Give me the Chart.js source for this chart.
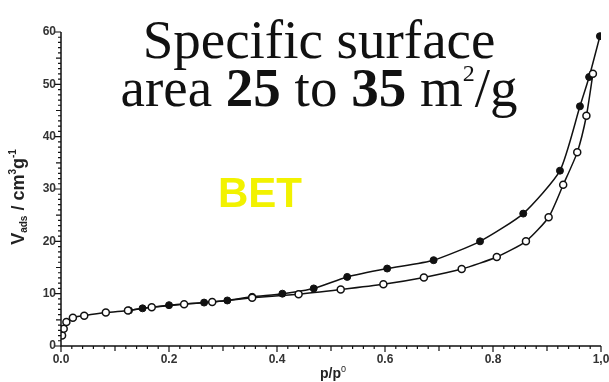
<!DOCTYPE html>
<html>
<head>
<meta charset="utf-8">
<script src="https://cdn.jsdelivr.net/npm/chart.js@4/dist/chart.umd.min.js"></script>
<style>
  html, body { margin: 0; padding: 0; background: #fff; }
  #wrap { width: 609px; height: 382px; }
</style>
</head>
<body>
<div id="wrap"><canvas id="c" width="609" height="382"></canvas></div>
<script>
// Nitrogen isotherm: relative pressure p/p0 and adsorbed volume (cm3/g)
const adsP = [0.002, 0.005, 0.010, 0.022, 0.043, 0.083, 0.124, 0.168, 0.228, 0.280, 0.354, 0.440, 0.518, 0.597, 0.672, 0.742, 0.807, 0.861, 0.903, 0.930, 0.956, 0.973, 0.985];
const adsV = [2.0, 3.3, 4.6, 5.4, 5.8, 6.4, 6.8, 7.4, 8.0, 8.4, 9.2, 9.9, 10.8, 11.8, 13.1, 14.7, 17.0, 20.0, 24.6, 30.8, 37.0, 44.0, 52.0];

const desP = [0.126, 0.151, 0.200, 0.265, 0.308, 0.354, 0.410, 0.468, 0.530, 0.604, 0.690, 0.776, 0.856, 0.924, 0.961, 0.978, 0.998];
const desV = [6.8, 7.2, 7.8, 8.3, 8.7, 9.4, 10.0, 11.0, 13.2, 14.8, 16.4, 20.0, 25.3, 33.5, 45.8, 51.4, 59.2];

const xTickLabels = ['0.0', '0.2', '0.4', '0.6', '0.8', '1,0'];
const yTickLabels = ['0', '10', '20', '30', '40', '50', '60'];

const toPoints = (px, py) => px.map((p, i) => ({ x: p, y: py[i] }));

const LABEL_FONT = "'Liberation Sans', Arial, sans-serif";
const SERIF = "'Liberation Serif', 'Times New Roman', serif";

// Draws a run of text pieces (with sub/superscripts) starting at x
function drawRun(ctx, parts, family, x, y) {
  parts.forEach(p => {
    ctx.font = p.f + ' ' + family;
    ctx.fillText(p.t, x, y + p.dy);
    x += ctx.measureText(p.t).width;
  });
}
function runWidth(ctx, parts, family) {
  let w = 0;
  parts.forEach(p => { ctx.font = p.f + ' ' + family; w += ctx.measureText(p.t).width; });
  return w;
}

// Axis lines, minor/major tick marks and the annotation texts
const decorations = {
  id: 'decorations',
  afterDraw(chart) {
    const { ctx, chartArea: a, scales: { x, y } } = chart;
    ctx.save();
    ctx.strokeStyle = '#111';
    ctx.lineWidth = 1.5;
    ctx.beginPath();
    ctx.moveTo(a.left, a.top);
    ctx.lineTo(a.left, a.bottom);
    ctx.lineTo(a.right, a.bottom);
    ctx.stroke();

    ctx.lineWidth = 1.2;
    ctx.beginPath();
    for (let i = 0; i <= 50; i++) {
      const px = x.getPixelForValue(i / 50);
      const len = i % 10 === 0 ? 6 : (i % 5 === 0 ? 5 : 3);
      ctx.moveTo(px, a.bottom);
      ctx.lineTo(px, a.bottom + len);
    }
    for (let i = 0; i <= 60; i++) {
      const py = y.getPixelForValue(i);
      const len = i % 10 === 0 ? 6 : (i % 5 === 0 ? 5 : 3);
      ctx.moveTo(a.left, py);
      ctx.lineTo(a.left - len, py);
    }
    ctx.stroke();

    // y-axis title: V_ads / cm^3 g^-1
    ctx.fillStyle = '#222';
    ctx.translate(19, 197);
    ctx.rotate(-Math.PI / 2);
    ctx.textBaseline = 'middle';
    const yt = [
      { t: 'V', f: 'bold 18px', dy: 0 },
      { t: 'ads', f: 'bold 10px', dy: 5 },
      { t: ' / cm', f: 'bold 18px', dy: 0 },
      { t: '3', f: 'bold 10px', dy: -6 },
      { t: 'g', f: 'bold 18px', dy: 0 },
      { t: '-1', f: 'bold 10px', dy: -6 }
    ];
    drawRun(ctx, yt, LABEL_FONT, -runWidth(ctx, yt, LABEL_FONT) / 2, 0);
    ctx.restore();

    // x-axis title: p/p^0
    ctx.save();
    ctx.fillStyle = '#222';
    ctx.textBaseline = 'alphabetic';
    const xt = [
      { t: 'p/p', f: 'bold 14px', dy: 0 },
      { t: '0', f: 'normal 9px', dy: -6 }
    ];
    drawRun(ctx, xt, LABEL_FONT, 333 - runWidth(ctx, xt, LABEL_FONT) / 2, 378);
    ctx.restore();

    // headline text
    ctx.save();
    ctx.fillStyle = '#111';
    ctx.textBaseline = 'alphabetic';
    ctx.font = '55px ' + SERIF;
    ctx.textAlign = 'center';
    ctx.fillText('Specific surface', 319, 58);
    ctx.textAlign = 'left';
    const line2 = [
      { t: 'area ', f: 'normal 55px', dy: 0 },
      { t: '25', f: 'bold 55px', dy: 0 },
      { t: ' to ', f: 'normal 55px', dy: 0 },
      { t: '35', f: 'bold 55px', dy: 0 },
      { t: ' m', f: 'normal 55px', dy: 0 },
      { t: '2', f: 'normal 24px', dy: -25 },
      { t: '/g', f: 'normal 55px', dy: 0 }
    ];
    drawRun(ctx, line2, SERIF, 319 - runWidth(ctx, line2, SERIF) / 2, 106);

    ctx.fillStyle = '#f2f200';
    ctx.font = 'bold 42px ' + LABEL_FONT;
    ctx.fillText('BET', 218, 207);
    ctx.restore();
  }
};

new Chart(document.getElementById('c'), {
  type: 'scatter',
  data: {
    datasets: [
      {
        label: 'adsorption',
        data: toPoints(adsP, adsV),
        showLine: true,
        borderColor: '#111',
        borderWidth: 1.5,
        tension: 0.2,
        pointRadius: 3.5,
        pointBorderWidth: 1.5,
        pointBackgroundColor: '#fff',
        pointBorderColor: '#111'
      },
      {
        label: 'desorption',
        data: toPoints(desP, desV),
        showLine: true,
        borderColor: '#111',
        borderWidth: 1.5,
        tension: 0.2,
        pointRadius: 3.5,
        pointBorderWidth: 1,
        pointBackgroundColor: '#111',
        pointBorderColor: '#111'
      }
    ]
  },
  options: {
    responsive: false,
    animation: false,
    events: [],
    layout: { padding: { top: 32, right: 8, left: 0, bottom: 0 } },
    plugins: { legend: { display: false }, tooltip: { enabled: false }, title: { display: false } },
    scales: {
      x: {
        type: 'linear',
        min: 0, max: 1,
        grid: { display: false, drawTicks: false },
        border: { display: false },
        ticks: {
          stepSize: 0.2,
          autoSkip: false,
          padding: 6,
          color: '#333',
          font: { family: LABEL_FONT, size: 12, weight: 'bold' },
          callback: (v) => xTickLabels[Math.round(v * 5)]
        },
        afterFit: (s) => { s.height = 36; s.paddingRight = 0; s.paddingLeft = 0; }
      },
      y: {
        type: 'linear',
        min: 0, max: 60,
        grid: { display: false, drawTicks: false },
        border: { display: false },
        ticks: {
          stepSize: 10,
          autoSkip: false,
          padding: 5,
          color: '#333',
          font: { family: LABEL_FONT, size: 12, weight: 'bold' },
          callback: (v) => yTickLabels[Math.round(v / 10)]
        },
        afterFit: (s) => { s.width = 61; s.paddingTop = 0; s.paddingBottom = 0; }
      }
    }
  },
  plugins: [decorations]
});
</script>
</body>
</html>
